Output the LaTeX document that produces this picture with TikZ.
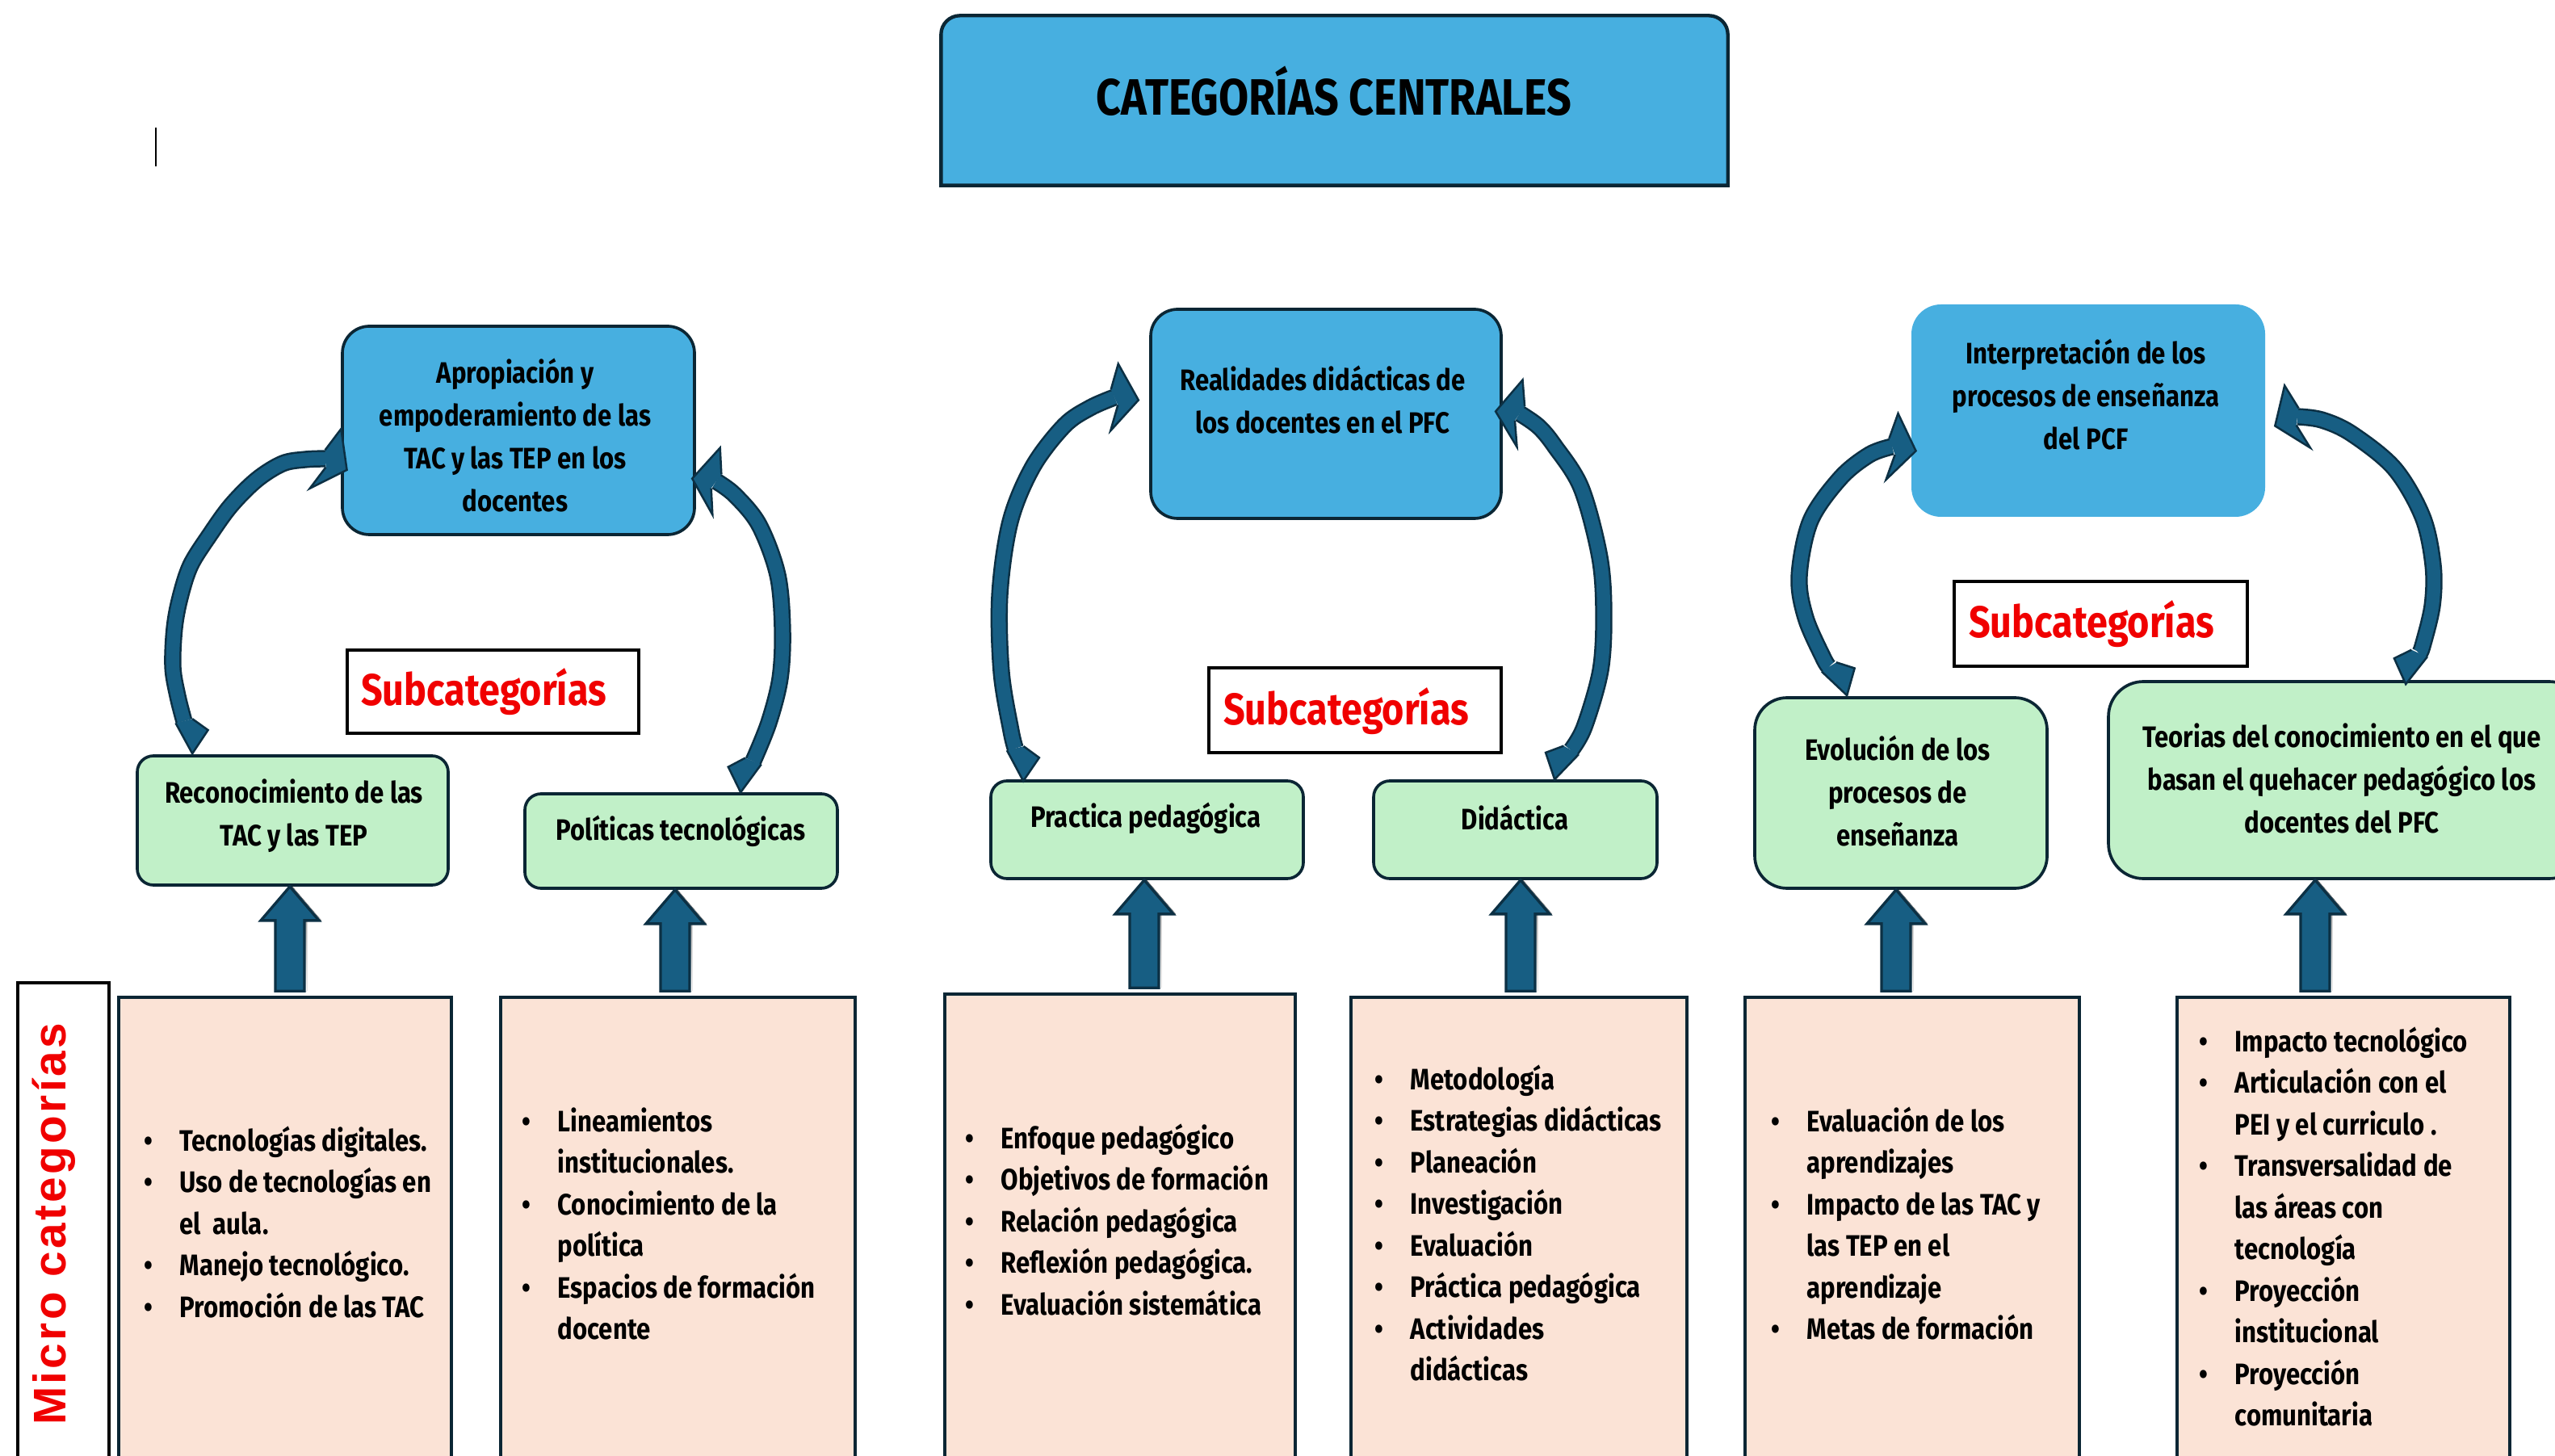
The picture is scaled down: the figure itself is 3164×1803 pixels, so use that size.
\documentclass[tikz,border=0pt]{standalone}
\usepackage{fontspec}
\usetikzlibrary{calc}
\setmainfont{Fira Sans}
\newfontfamily\condf{Fira Sans}[FakeStretch=0.85]
\newfontfamily\arialf{Liberation Sans}[LetterSpace=6]

\definecolor{bluebox}{HTML}{47AFE0}
\definecolor{greenbox}{HTML}{C1F0C8}
\definecolor{pinkbox}{HTML}{FBE3D6}
\definecolor{edge}{HTML}{0B2634}
\definecolor{arrowfill}{HTML}{175E83}
\definecolor{arrowline}{HTML}{0C3044}
\definecolor{redtxt}{HTML}{F00000}
\definecolor{shade}{HTML}{B9C0C5}

% bullet list set as a two-column tabular, first row on the node baseline
\newcommand\mlist[1]{\begin{tabular}[t]{@{}p{13.2pt}@{}l@{}}#1\end{tabular}}
\newcommand\itm{\textbullet&}

% empty box node from its corners (x1,y1)-(x2,y2), y counted downwards
\newcommand\boxnode[6]{\node[#1, minimum width={(#5-#3)*0.3pt}, minimum height={(#6-#4)*0.3pt}] (#2) at ({(#3+#5)/2},{(#4+#6)/2}) {};}

% outline of an upward block arrow from the lower node to the upper node
\newcommand\blockpath[3]{($(#1,0 |- #2.north)+(-18,-6)$) -- ($(#1,0 |- #3.south)+(-18,42)$)
    -- ($(#1,0 |- #3.south)+(-36,42)$) -- (#1,0 |- #3.south) -- ($(#1,0 |- #3.south)+(36,42)$)
    -- ($(#1,0 |- #3.south)+(18,42)$) -- ($(#1,0 |- #2.north)+(18,-6)$) -- cycle}
\newcommand\blockup[3]{%
  \fill[shade, shift={(3,2)}] \blockpath{#1}{#2}{#3};
  \filldraw[blockarrow] \blockpath{#1}{#2}{#3};}

% curved band arrow with a pointed tail and a swept head
% #1 side (1: bends to the right at the top, -1: bends to the left)
% #2 tail tip, #3 first band point, #4 middle points, #5 point before the end, #6 band end
\newcommand\curvarrow[6]{%
  \pgfmathsetmacro\aF{-48*#1}\pgfmathsetmacro\aO{90*#1}\pgfmathsetmacro\aI{-90*#1}%
  \pgfmathsetmacro\aT{150*#1}\pgfmathsetmacro\aU{-120*#1}\pgfmathsetmacro\aL{60*#1}%
  \coordinate (cT) at (#2);
  \coordinate (cC) at ($(cT)!12.5pt!(#3)$);
  \coordinate (cP) at (#5);
  \coordinate (cE) at (#6);
  \coordinate (cO) at ($(cC)!3.2pt!\aO:(#3)$);
  \coordinate (cI) at ($(cC)!3.2pt!\aI:(#3)$);
  \coordinate (cF) at ($(cT)!10.5pt!\aF:(#3)$);
  \coordinate (hO) at ($(cE)!3.2pt!\aI:(cP)$);
  \coordinate (hI) at ($(cE)!3.2pt!\aO:(cP)$);
  \coordinate (hU) at ($(cE)!12.5pt!\aU:(cP)$);
  \coordinate (hL) at ($(cE)!12.5pt!\aL:(cP)$);
  \coordinate (hT) at ($(cE)!9pt!\aT:(cP)$);
  \draw[bandstyle] plot[smooth, tension=0.55] coordinates {(cC) (#3) #4 (cP) (cE)};
  \fill[arrowfill] (cO) -- (cT) -- (cF) -- (cI) -- cycle;
  \draw[edgestroke] (cO) -- (cT) -- (cF) -- (cI);
  \fill[arrowfill] (hO) -- (hU) -- (hT) -- (hL) -- (hI) -- cycle;
  \draw[edgestroke] (hO) -- (hU) -- (hT) -- (hL) -- (hI);}

\tikzset{
  box/.style={draw=edge, line width=1.1pt, inner sep=0pt},
  bluenode/.style={box, fill=bluebox, rounded corners=10pt},
  greennode/.style={box, fill=greenbox, rounded corners=6pt},
  pinknode/.style={box, fill=pinkbox},
  subnode/.style={draw=black, line width=1.1pt, fill=white, inner sep=0pt},
  lbl/.style={font=\condf\bfseries\fontsize{11}{15.9}\selectfont, align=center, inner sep=0pt},
  listtxt/.style={font=\condf\bfseries\fontsize{11}{15.45}\selectfont, inner sep=0pt, anchor=base west},
  subtxt/.style={font=\condf\bfseries\fontsize{16.5}{20}\selectfont, text=redtxt, inner sep=0pt},
  blockarrow/.style={fill=arrowfill, draw=arrowline, line width=1pt, line join=miter},
  edgestroke/.style={draw=arrowline, line width=0.75pt, line join=miter},
  bandstyle/.style={draw=arrowline, line width=0.75pt, double=arrowfill, double distance=4.9pt},
}

\begin{document}
\begin{tikzpicture}[x=0.3pt, y=-0.3pt]
\useasboundingbox (0,0) rectangle (3164,1803);
\clip (0,0) rectangle (3164,1803);
\fill[white] (0,0) rectangle (3164,1803);

% text cursor
\draw[line width=0.6pt] (193,158) -- (193,206);

% central title, rounded on top only
\node[inner sep=0pt, minimum width={973*0.3pt}, minimum height={209*0.3pt}] (top) at (1652.5,124.5) {};
\filldraw[fill=bluebox, draw=edge, line width=1.3pt] (top.south west) [rounded corners=7pt] -- (top.north west) -- (top.north east) [sharp corners] -- (top.south east) -- cycle;
\node[font=\condf\bfseries\fontsize{19}{22}\selectfont, inner sep=0pt] (toptxt) at (1652,113) {CATEGORÍAS CENTRALES};

% central categories
\boxnode{bluenode}{b1}{424}{404}{860}{662}
\boxnode{bluenode}{b2}{1425}{383}{1859}{642}
\boxnode{bluenode, draw=none, rounded corners=11pt}{b3}{2367}{377}{2805}{640}
\node[lbl] (b1t) at (638,539) {Apropiación y\\empoderamiento de las\\TAC y las TEP en los\\docentes};
\node[lbl] (b2t) at (1638,495) {Realidades didácticas de\\los docentes en el PFC};
\node[lbl] (b3t) at (2583,489) {Interpretación de los\\procesos de enseñanza\\del PCF};

% subcategory labels
\boxnode{subnode}{s1}{430}{805}{791}{908}
\boxnode{subnode}{s2}{1497}{827}{1859}{932}
\boxnode{subnode}{s3}{2420}{720}{2783}{825}
\node[subtxt] (s1t) at (599,857) {Subcategorías};
\node[subtxt] (s2t) at (1667,881) {Subcategorías};
\node[subtxt] (s3t) at (2590,773) {Subcategorías};

% subcategories
\boxnode{greennode}{g1}{170}{936}{555}{1096}
\boxnode{greennode}{g2}{650}{983}{1037}{1100}
\boxnode{greennode}{g3}{1227}{967}{1614}{1088}
\boxnode{greennode}{g4}{1701}{967}{2052}{1088}
\boxnode{greennode, rounded corners=12pt}{g5}{2173}{864}{2535}{1100}
\boxnode{greennode, rounded corners=13pt}{g6}{2611}{844}{3200}{1088}
\node[lbl] (g1t) at (364,1010) {Reconocimiento de las\\TAC y las TEP};
\node[lbl] (g2t) at (843,1029) {Políticas tecnológicas};
\node[lbl] (g3t) at (1419,1013) {Practica pedagógica};
\node[lbl] (g4t) at (1876,1013) {Didáctica};
\node[lbl] (g5t) at (2350,980) {Evolución de los\\procesos de\\enseñanza};
\node[lbl] (g6t) at (2900,964) {Teorias del conocimiento en el que\\basan el quehacer pedagógico los\\docentes del PFC};

% micro categories
\boxnode{subnode}{micro}{22}{1217}{135}{1840}
\node[rotate=90, font=\arialf\bfseries\fontsize{17}{19}\selectfont, text=redtxt, inner sep=0pt] (microt) at (67,1516) {Micro categorías};
\boxnode{pinknode}{p1}{147}{1235}{559}{1840}
\boxnode{pinknode}{p2}{620}{1235}{1059}{1840}
\boxnode{pinknode}{p3}{1170}{1231}{1604}{1840}
\boxnode{pinknode}{p4}{1673}{1235}{2089}{1840}
\boxnode{pinknode}{p5}{2161}{1235}{2575}{1840}
\boxnode{pinknode}{p6}{2696}{1235}{3108}{1840}

\node[listtxt] (l1) at (178,1425) {\mlist{\itm Tecnologías digitales.\\ \itm Uso de tecnologías en\\ & el~~aula.\\ \itm Manejo tecnológico.\\ \itm Promoción de las TAC}};
\node[listtxt] (l2) at (646,1401) {\mlist{\itm Lineamientos\\ & institucionales.\\ \itm Conocimiento de la\\ & política\\ \itm Espacios de formación\\ & docente}};
\node[listtxt] (l3) at (1195,1422) {\mlist{\itm Enfoque pedagógico\\ \itm Objetivos de formación\\ \itm Relación pedagógica\\ \itm Reflexión pedagógica.\\ \itm Evaluación sistemática}};
\node[listtxt] (l4) at (1702,1349) {\mlist{\itm Metodología\\ \itm Estrategias didácticas\\ \itm Planeación\\ \itm Investigación\\ \itm Evaluación\\ \itm Práctica pedagógica\\ \itm Actividades\\ & didácticas}};
\node[listtxt] (l5) at (2193,1401) {\mlist{\itm Evaluación de los\\ & aprendizajes\\ \itm Impacto de las TAC y\\ & las TEP en el\\ & aprendizaje\\ \itm Metas de formación}};
\node[listtxt] (l6) at (2723,1302) {\mlist{\itm Impacto tecnológico\\ \itm Articulación con el\\ & PEI y el curriculo .\\ \itm Transversalidad de\\ & las áreas con\\ & tecnología\\ \itm Proyección\\ & institucional\\ \itm Proyección\\ & comunitaria}};

% upward block arrows
\blockup{359}{p1}{g1}
\blockup{836}{p2}{g2}
\blockup{1417}{p3}{g3}
\blockup{1883}{p4}{g4}
\blockup{2348}{p5}{g5}
\blockup{2867}{p6}{g6}

% curved arrows from subcategories to central categories
\coordinate (l1s) at ($(g1.north west)+(70,-1)$);
\curvarrow{1}{l1s}{220,862}{(214,826) (216,778) (223,740) (236,700) (260,662) (286,626) (318,594) (350,574)}{378,569}{403,568}
\coordinate (r1s) at ($(g2.north west)+(269,0)$);
\curvarrow{-1}{r1s}{952,895}{(966,840) (969,780) (963,712) (940,650)}{910,613}{887,596}
\coordinate (l2s) at ($(g3.north west)+(42,2)$);
\curvarrow{1}{l2s}{1252,905}{(1240,832) (1238,737) (1251,646) (1279,578) (1318,527)}{1350,505}{1380,492}
\coordinate (r2s) at ($(g4.north west)+(226,0)$);
\curvarrow{-1}{r2s}{1962,900}{(1982,830) (1986,760) (1981,690) (1958,604) (1925,552)}{1905,528}{1882,512}
\coordinate (l3s) at ($(g5.north west)+(116,-1)$);
\curvarrow{1}{l3s}{2258,815}{(2236,765) (2228,714) (2242,645) (2279,592)}{2315,563}{2343,553}
\coordinate (r3s) at ($(g6.north west)+(370,5)$);
\curvarrow{-1}{r3s}{3000,800}{(3012,750) (3013,700) (3000,640) (2965,580) (2912,537)}{2875,520}{2845,516}
\end{tikzpicture}
\end{document}
